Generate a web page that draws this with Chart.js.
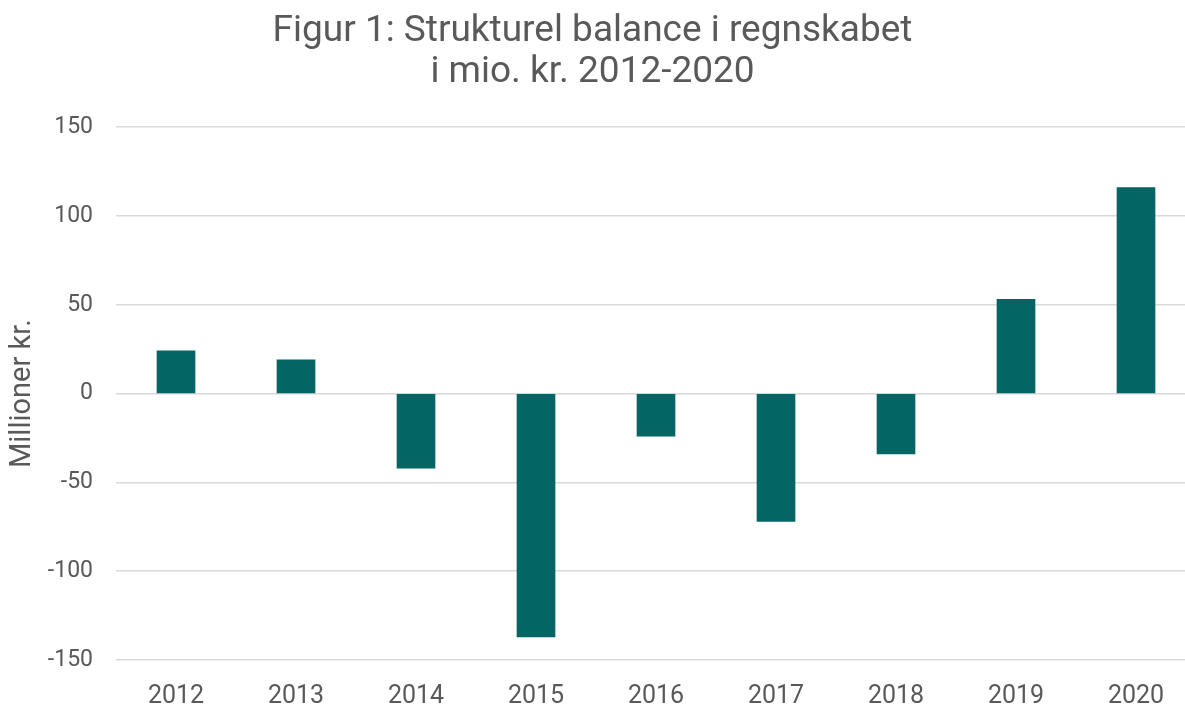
<!DOCTYPE html>
<html>
<head>
<meta charset="utf-8">
<script src="https://cdn.jsdelivr.net/npm/chart.js@4"></script>
<style>
  html, body { margin: 0; padding: 0; background: #ffffff; overflow: hidden; }
  #wrap { width: 1185px; height: 706px; position: relative; }
</style>
</head>
<body>
<div id="wrap"><canvas id="chart"></canvas></div>
<script>
const years = ['2012', '2013', '2014', '2015', '2016', '2017', '2018', '2019', '2020'];
const balance = [24, 19, -42, -137, -24, -72, -34, 53, 116];
const yTicks = [-150, -100, -50, 0, 50, 100, 150];

const textColor = '#595959';
const barColor = '#036564';
const fontFamily = 'Roboto, "Liberation Sans", sans-serif';

// bars sit on an index axis: 0..8 -> years
const points = years.map((y, i) => ({ x: i, y: balance[i] }));

const ctx = document.getElementById('chart').getContext('2d');
new Chart(ctx, {
    type: 'bar',
    data: {
        datasets: [{
            data: points,
            backgroundColor: barColor,
            borderWidth: 0,
            barThickness: 38
        }]
    },
    options: {
        responsive: true,
        maintainAspectRatio: false,
        animation: false,
        layout: { padding: { left: 0, right: 0, top: 0, bottom: 0 } },
        plugins: {
            legend: { display: false },
            tooltip: { enabled: false },
            title: {
                display: true,
                text: ['Figur 1: Strukturel balance i regnskabet', 'i mio. kr. 2012-2020'],
                color: textColor,
                font: { family: fontFamily, size: 37, weight: 'normal', lineHeight: 1.11 },
                padding: { top: 11, bottom: 34 }
            }
        },
        scales: {
            x: {
                type: 'linear',
                offset: false,
                min: -0.5,
                max: -0.5 + (1185 - 116) / 120,
                grid: { display: false },
                border: { display: false },
                ticks: {
                    stepSize: 1,
                    includeBounds: false,
                    autoSkip: false,
                    maxRotation: 0,
                    padding: 14,
                    color: textColor,
                    font: { family: fontFamily, size: 25 },
                    callback: (v) => Number.isInteger(v) && years[v] !== undefined ? years[v] : ''
                },
                afterFit: (scale) => { scale.height = 46; }
            },
            y: {
                min: yTicks[0],
                max: yTicks[yTicks.length - 1],
                border: { display: false },
                grid: { color: '#d9d9d9', lineWidth: 1.5, drawTicks: false },
                afterBuildTicks: (scale) => { scale.ticks = yTicks.map(v => ({ value: v })); },
                ticks: {
                    padding: 23,
                    color: textColor,
                    font: { family: fontFamily, size: 23 }
                },
                title: {
                    display: true,
                    text: 'Millioner kr.',
                    color: textColor,
                    font: { family: fontFamily, size: 29 },
                    padding: { top: 5, bottom: 0 }
                },
                afterFit: (scale) => { scale.width = 116; }
            }
        }
    }
});
</script>
</body>
</html>
